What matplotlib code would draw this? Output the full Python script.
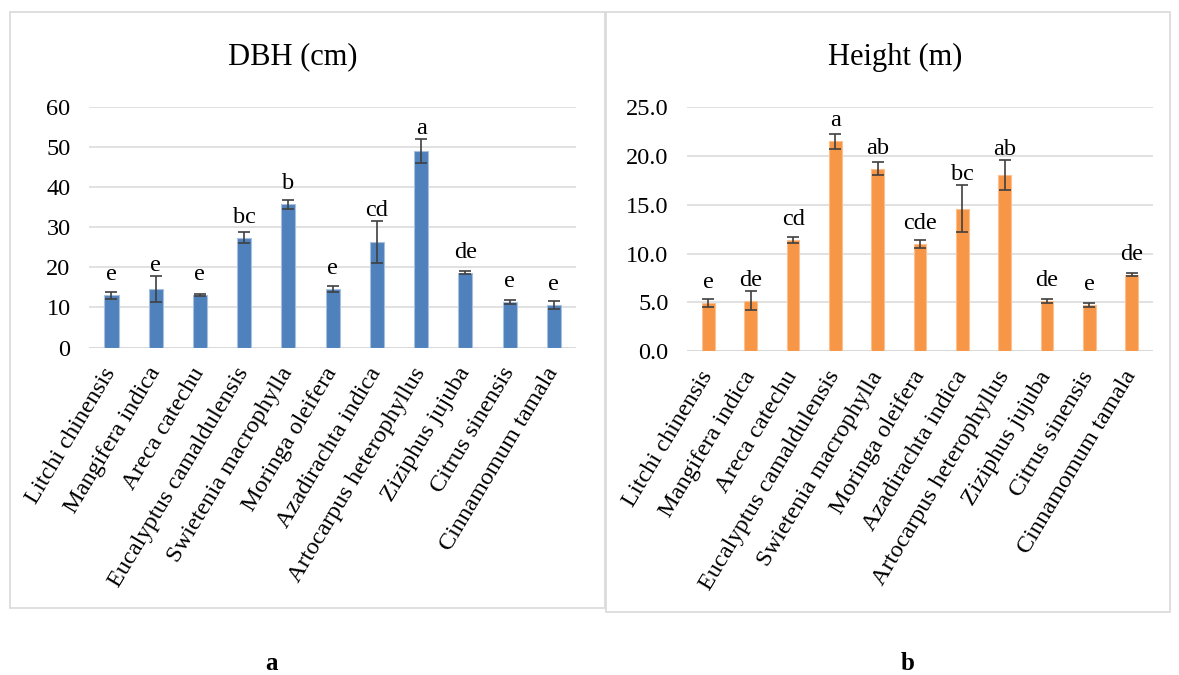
import matplotlib
matplotlib.use("Agg")
import matplotlib.pyplot as plt
from matplotlib.patches import Rectangle
import matplotlib.transforms as mtransforms
import numpy as np

species = ["Litchi chinensis", "Mangifera indica", "Areca catechu",
           "Eucalyptus camaldulensis", "Swietenia macrophylla", "Moringa oleifera",
           "Azadirachta indica", "Artocarpus heterophyllus", "Ziziphus jujuba",
           "Citrus sinensis", "Cinnamomum tamala"]

dbh_mean = [13.0, 14.6, 13.2, 27.4, 35.8, 14.6, 26.4, 49.1, 18.7, 11.3, 10.6]
dbh_err = [0.95, 3.3, 0.25, 1.4, 1.1, 0.7, 5.2, 3.1, 0.45, 0.55, 0.95]
dbh_letters = ["e", "e", "e", "bc", "b", "e", "cd", "a", "de", "e", "e"]

height_mean = [4.93, 5.17, 11.4, 21.5, 18.7, 10.96, 14.6, 18.05, 5.14, 4.76, 7.84]
height_err = [0.38, 1.0, 0.28, 0.77, 0.68, 0.43, 2.4, 1.5, 0.2, 0.2, 0.15]
height_letters = ["e", "de", "cd", "a", "ab", "cde", "bc", "ab", "de", "e", "de"]

dbh_ticks = [0, 10, 20, 30, 40, 50, 60]
height_ticks = [0, 5, 10, 15, 20, 25]

plt.rcParams['font.family'] = ['Liberation Serif', 'DejaVu Serif']

W, H = 1179, 675
DPI = 100
fig = plt.figure(figsize=(W / DPI, H / DPI), dpi=DPI)
fig.patch.set_facecolor("white")


def px_axes(x0, x1, ytop, ybot):
    return fig.add_axes([x0 / W, 1 - ybot / H, (x1 - x0) / W, (ybot - ytop) / H])


def panel(x0, x1, ytop, ybot):
    fig.patches.append(Rectangle((x0 / W, 1 - ybot / H), (x1 - x0) / W, (ybot - ytop) / H,
                                 transform=fig.transFigure, fill=False,
                                 edgecolor="#D9D9D9", linewidth=1.2))


def draw(ax, means, errs, letters, ticks, ymax, color, edge, fmt, width):
    x = np.arange(len(species))
    ax.set_xlim(-0.5, len(species) - 0.5)
    ax.set_ylim(0, ymax)
    ax.bar(x, means, width=width, color=color, edgecolor=edge, linewidth=0.8, zorder=3)
    ax.errorbar(x, means, yerr=errs, fmt="none", ecolor="#404040", elinewidth=1.2,
                capsize=4.5, capthick=1.2, zorder=4)
    for xi, m, e, lab in zip(x, means, errs, letters):
        y_bar = ax.transData.transform((xi, m))[1]
        y_err = ax.transData.transform((xi, m + e))[1]
        y_lab = max(y_bar + 15, y_err + 5)
        off_pt = (y_lab - y_bar) * 72.0 / DPI
        ax.annotate(lab, xy=(xi, m), xytext=(0, off_pt), textcoords="offset points",
                    ha="center", va="baseline", fontsize=17.5, color="#000000")
    ax.set_yticks(ticks)
    ax.set_yticklabels([fmt.format(t) for t in ticks], fontsize=17.5)
    ax.set_xticks(x)
    ax.set_xticklabels(species, rotation=59, ha="right", va="center",
                       rotation_mode="anchor", fontsize=17.5)
    shift = mtransforms.ScaledTranslation(7 / 72, 0, fig.dpi_scale_trans)
    for lbl in ax.get_xticklabels():
        lbl.set_transform(lbl.get_transform() + shift)
    ax.tick_params(axis="x", length=0, pad=15.5)
    ax.tick_params(axis="y", length=0, pad=13.5)
    ax.grid(axis="y", color="#D9D9D9", linewidth=1.1, zorder=0)
    ax.set_axisbelow(True)
    for s in ["top", "right", "left", "bottom"]:
        ax.spines[s].set_visible(False)
    ax.axhline(0, color="#D9D9D9", linewidth=1.3, zorder=2)


panel(10, 605, 12, 608)
panel(606, 1170, 12, 612)

ax1 = px_axes(89.3, 576, 107.3, 347.5)
draw(ax1, dbh_mean, dbh_err, dbh_letters, dbh_ticks, 60, "#4F81BD", "#A7C0DE", "{:d}", 0.32)

ax2 = px_axes(687.3, 1152.7, 107.3, 351)
draw(ax2, height_mean, height_err, height_letters, height_ticks, 25, "#F79646", "#FAC090", "{:.1f}", 0.30)

fig.text(293 / W, 1 - 57 / H, "DBH (cm)", ha="center", va="center", fontsize=22)
fig.text(895 / W, 1 - 57 / H, "Height (m)", ha="center", va="center", fontsize=22)

fig.text(272 / W, 1 - 664 / H, "a", ha="center", va="center", fontsize=18, fontweight="bold")
fig.text(908 / W, 1 - 664 / H, "b", ha="center", va="center", fontsize=18, fontweight="bold")

fig.savefig("out.png", dpi=DPI, facecolor="white")
